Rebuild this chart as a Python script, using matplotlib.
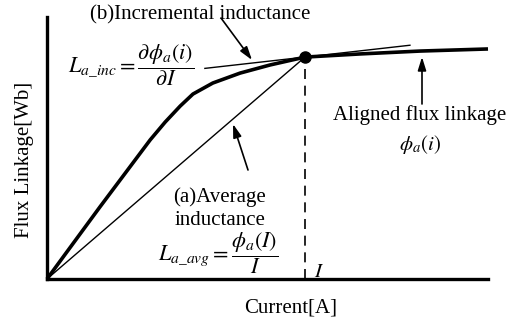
import matplotlib
matplotlib.use("Agg")
import matplotlib.pyplot as plt
import numpy as np

plt.rcParams["font.family"] = ["Liberation Serif", "DejaVu Serif"]
plt.rcParams["mathtext.fontset"] = "stix"

# Aligned flux-linkage curve (arbitrary units)
current = [0.0, 1.20, 2.34, 2.68, 3.02, 3.31, 3.76, 4.38, 5.06, 5.85, 7.10, 8.46, 10.0]
flux = [0.0, 2.75, 5.31, 5.99, 6.60, 7.06, 7.48, 7.86, 8.17, 8.47, 8.59, 8.70, 8.78]

# Operating point and incremental slope there
I_op = 5.85
phi_op = 8.47
inc_slope = 0.19
tangent_span = [3.58, 8.23]

W, H = 516, 324
fig = plt.figure(figsize=(W / 100, H / 100), dpi=100)
ax = fig.add_axes([47 / W, 1 - 279 / H, 441 / W, 262 / H])
ax.set_xlim(0, 10)
ax.set_ylim(0, 10)
for s in ("top", "right"):
    ax.spines[s].set_visible(False)
for s in ("left", "bottom"):
    ax.spines[s].set_linewidth(2.4)
    ax.spines[s].set_capstyle("projecting")
ax.set_xticks([])
ax.set_yticks([])


def fp(x, y):
    """Figure-pixel position (from top-left) to figure fraction."""
    return (x / W, 1 - y / H)


# flux curve
ax.plot(current, flux, color="black", lw=2.6, solid_capstyle="butt",
        solid_joinstyle="round", clip_on=False)

# average inductance line
ax.plot([0, I_op], [0, phi_op], color="black", lw=1.0)

# incremental inductance tangent
tx = np.array(tangent_span)
ax.plot(tx, phi_op + inc_slope * (tx - I_op), color="black", lw=1.0)

# operating point
ax.plot([I_op], [phi_op], "o", color="black", ms=8, zorder=5)
ax.plot([I_op, I_op], [0, phi_op], color="black", lw=1.2,
        dashes=(6, 4))

arrow = dict(arrowstyle="-|>,head_length=0.8,head_width=0.25",
             color="black", lw=1.2, shrinkA=0, shrinkB=0)

ax.annotate("", xy=fp(252, 60), xycoords="figure fraction",
            xytext=fp(221, 18), textcoords="figure fraction",
            arrowprops=arrow)
ax.annotate("", xy=fp(233, 124), xycoords="figure fraction",
            xytext=fp(248, 170), textcoords="figure fraction",
            arrowprops=arrow)
ax.annotate("", xy=fp(422, 57), xycoords="figure fraction",
            xytext=fp(422, 104), textcoords="figure fraction",
            arrowprops=arrow)

fs = 15
mfs = 16
fig.text(*fp(90, 19.5), "(b)Incremental inductance", fontsize=fs,
         ha="left", va="baseline")
fig.text(*fp(333, 120), "Aligned flux linkage", fontsize=fs,
         ha="left", va="baseline")
fig.text(*fp(420, 150), r"$\phi_a(i)$", fontsize=fs,
         ha="center", va="baseline")
fig.text(*fp(220, 202), "(a)Average", fontsize=fs, ha="center", va="baseline")
fig.text(*fp(220, 225), "inductance", fontsize=fs, ha="center", va="baseline")
fig.text(*fp(158, 253), r"$L_{a\_avg}=\dfrac{\phi_a(I)}{I}$",
         fontsize=mfs, ha="left", va="center")
fig.text(*fp(68, 65),
         r"$L_{a\_inc}=\dfrac{\partial\phi_a(i)}{\partial I}$",
         fontsize=mfs, ha="left", va="center")
fig.text(*fp(314, 277), r"$I$", fontsize=fs, ha="left", va="baseline")
fig.text(*fp(291, 313), "Current[A]", fontsize=fs, ha="center", va="baseline")
fig.text(*fp(25, 160), "Flux Linkage[Wb]", fontsize=fs, ha="center",
         va="center", rotation=90)

fig.savefig("out.png", dpi=100)
